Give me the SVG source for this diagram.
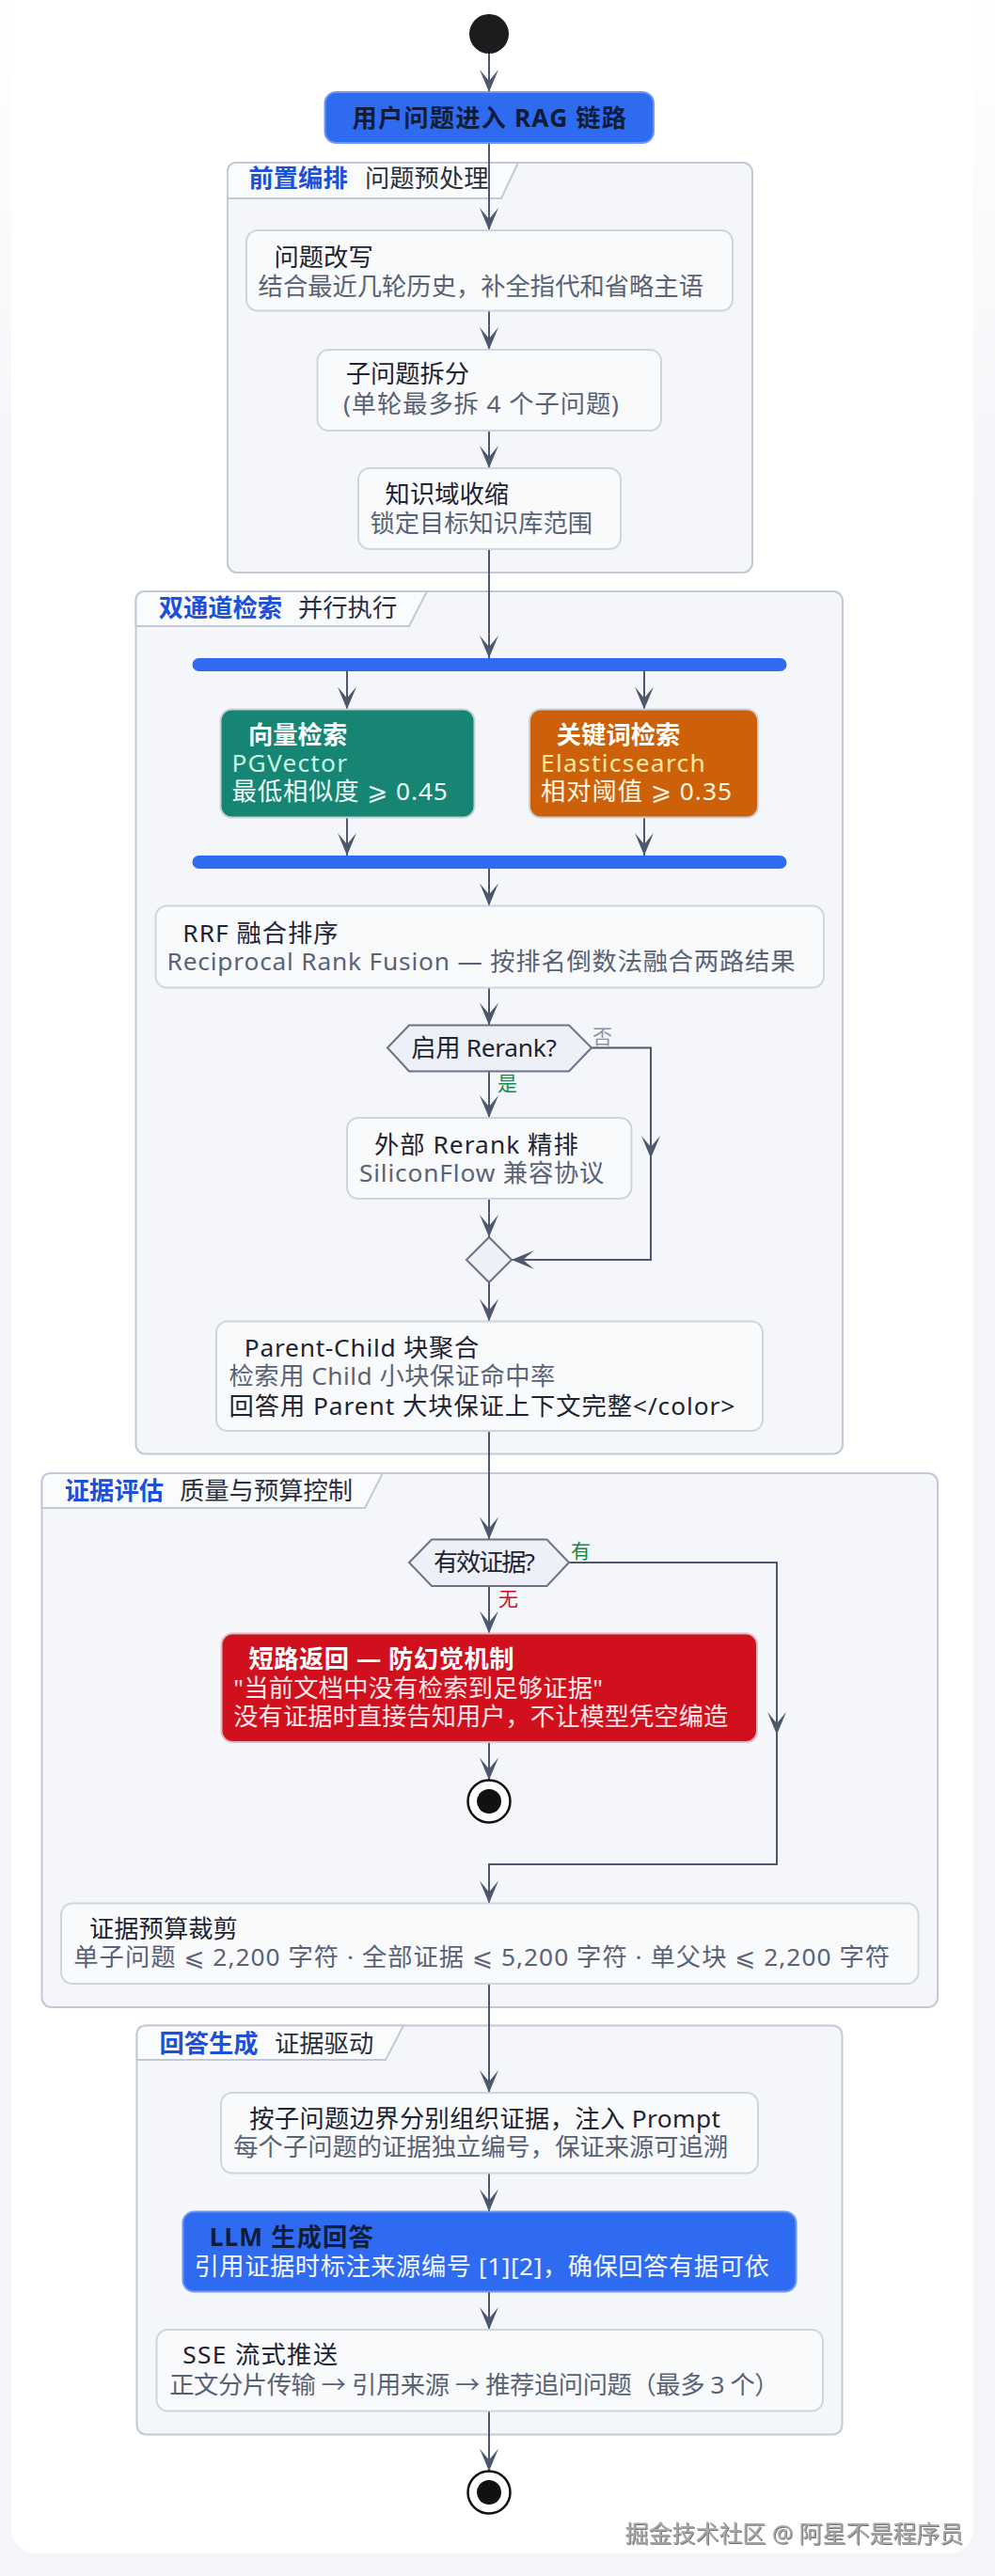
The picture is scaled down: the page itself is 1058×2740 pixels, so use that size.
<svg xmlns="http://www.w3.org/2000/svg" width="1058" height="2740" viewBox="0 0 1058 2740">
<style>
.t{font-family:"Noto Sans","Noto Sans CJK SC","DejaVu Sans",sans-serif;font-size:26.3px}
.h{fill:#1f2433}
.s{fill:#5a6376}
.b{font-weight:bold}
.grp{fill:#f4f6f9;stroke:#c3c9d6;stroke-width:2}
.tab{fill:#fafbfd;stroke:#c3c9d6;stroke-width:2}
.box{fill:#f8fafc;stroke:#cfd5e0;stroke-width:2}
.blue{fill:#2f6bf0;stroke:#6d97f4;stroke-width:2}
.gt{fill:#1d4fd8;font-weight:bold}
.gs{fill:#2a3040}
.edge{fill:none;stroke:#4e586c;stroke-width:2;marker-end:url(#arr)}
.lbl{font-size:21px}
.hex{fill:#edf0f7;stroke:#6b7487;stroke-width:2}
.bar{fill:#2f6bf0}
.navy{fill:#0f1c3a}
</style>
<defs>
<marker id="arr" viewBox="0 0 24 22" refX="24" refY="11" markerWidth="24" markerHeight="22" markerUnits="userSpaceOnUse" orient="auto">
<path d="M24,11 L0,1 L12,11 L0,21 Z" fill="#4e586c"/>
</marker>
<linearGradient id="bg" gradientUnits="userSpaceOnUse" x1="0" y1="0" x2="0" y2="2740">
<stop offset="0" stop-color="#ffffff"/>
<stop offset="0.2" stop-color="#f4f5f9"/>
<stop offset="1" stop-color="#f4f5f9"/>
</linearGradient>
<filter id="emb" x="-5%" y="-30%" width="110%" height="160%">
<feDropShadow dx="1" dy="1" stdDeviation="0.4" flood-color="#555555" flood-opacity="0.8"/>
</filter>
</defs>

<rect x="0" y="0" width="1058" height="2740" fill="url(#bg)"/>
<rect x="12" y="-40" width="1023" height="2756" rx="26" fill="#ffffff"/>

<g id="group-preprocess">
<rect class="grp" x="242" y="173" width="558" height="436" rx="10"/>
<path class="tab" d="M242,211 V183 Q242,173 252,173 H551 L533,211 Z"/>
<text class="t gt" x="264.5" y="199">前置编排</text>
<text class="t gs" x="388" y="199">问题预处理</text>
</g>
<g id="group-retrieval">
<rect class="grp" x="144.5" y="629" width="751.5" height="917.5" rx="10"/>
<path class="tab" d="M144.5,666 V639 Q144.5,629 154.5,629 H454 L435,666 Z"/>
<text class="t gt" x="168.7" y="656">双通道检索</text>
<text class="t gs" x="317" y="656">并行执行</text>
</g>
<g id="group-evidence">
<rect class="grp" x="44.5" y="1567" width="952.5" height="568" rx="10"/>
<path class="tab" d="M44.5,1604 V1577 Q44.5,1567 54.5,1567 H407 L388,1604 Z"/>
<text class="t gt" x="68.8" y="1595">证据评估</text>
<text class="t gs" x="191" y="1595">质量与预算控制</text>
</g>
<g id="group-answer">
<rect class="grp" x="145.5" y="2154.5" width="750" height="435" rx="10"/>
<path class="tab" d="M145.5,2191 V2164.5 Q145.5,2154.5 155.5,2154.5 H429 L410,2191 Z"/>
<text class="t gt" x="169.4" y="2183">回答生成</text>
<text class="t gs" x="292" y="2183">证据驱动</text>
</g>

<g id="connectors">
<path class="edge" d="M520,57 V98"/>
<path class="edge" d="M520,152 V245"/>
<path class="edge" d="M520,330.5 V372"/>
<path class="edge" d="M520,458 V498"/>
<path class="edge" d="M520,584 V700"/>
<path class="edge" d="M369,714 V754.5"/>
<path class="edge" d="M685,714 V754.5"/>
<path class="edge" d="M369,869.5 V910"/>
<path class="edge" d="M685,869.5 V910"/>
<path class="edge" d="M520,924 V963.5"/>
<path class="edge" d="M520,1050.5 V1090.5"/>
<path class="edge" d="M520,1139.5 V1189"/>
<path class="edge" d="M629,1114.5 H692 V1232"/>
<path class="edge" d="M692,1230 V1340 H544"/>
<path class="edge" d="M520,1275 V1316"/>
<path class="edge" d="M520,1364 V1405.5"/>
<path class="edge" d="M520,1522 V1637.5"/>
<path class="edge" d="M520,1687 V1737.5"/>
<path class="edge" d="M520,1853 V1893.5"/>
<path class="edge" d="M605,1662 H826 V1845"/>
<path class="edge" d="M826,1843 V1983 H520 V2024.5"/>
<path class="edge" d="M520,2110 V2226"/>
<path class="edge" d="M520,2311.5 V2352.5"/>
<path class="edge" d="M520,2437.5 V2478"/>
<path class="edge" d="M520,2564.5 V2628.5"/>
<text class="t lbl" x="529" y="1160" fill="#178a4c">是</text>
<text class="t lbl" x="630" y="1110" fill="#8a93a4">否</text>
<text class="t lbl" x="607" y="1657" fill="#178a4c">有</text>
<text class="t lbl" x="530" y="1708" fill="#cc1020">无</text>
</g>

<g id="start">
<circle cx="520" cy="36" r="21" fill="#1c1c1e"/>
</g>
<g id="n-input">
<rect class="blue" x="345.5" y="98" width="349.5" height="54" rx="12"/>
<text class="t b navy" x="374.5" y="134.5" textLength="291.5" lengthAdjust="spacing">用户问题进入 RAG 链路</text>
</g>
<g id="n-rewrite">
<rect class="box" x="262" y="245" width="517" height="85.5" rx="12"/>
<text class="t h" x="291.5" y="283">问题改写</text>
<text class="t s" x="274.6" y="314">结合最近几轮历史，补全指代和省略主语</text>
</g>
<g id="n-split">
<rect class="box" x="337.5" y="372" width="365.5" height="86" rx="12"/>
<text class="t h" x="367.7" y="407">子问题拆分</text>
<text class="t s" x="365" y="438.5" textLength="293" lengthAdjust="spacing">(单轮最多拆 4 个子问题)</text>
</g>
<g id="n-scope">
<rect class="box" x="381" y="498" width="279" height="86" rx="12"/>
<text class="t h" x="409.6" y="534.5">知识域收缩</text>
<text class="t s" x="393.4" y="566">锁定目标知识库范围</text>
</g>
<g id="fork">
<rect class="bar" x="204.5" y="700" width="632" height="14" rx="7"/>
</g>
<g id="n-vector">
<rect x="234.5" y="754.5" width="270" height="115" rx="12" fill="#178574" stroke="#c9d0dc" stroke-width="2"/>
<text class="t b" x="264" y="791" fill="#ffffff">向量检索</text>
<text class="t" x="246.5" y="821" fill="#c8f7e2" textLength="122.5" lengthAdjust="spacing">PGVector</text>
<text class="t" x="246.5" y="851" fill="#eefcf6" textLength="229.4" lengthAdjust="spacing">最低相似度 ⩾ 0.45</text>
</g>
<g id="n-keyword">
<rect x="563" y="754.5" width="243" height="115" rx="12" fill="#cc6109" stroke="#c9d0dc" stroke-width="2"/>
<text class="t b" x="591.8" y="791" fill="#ffffff">关键词检索</text>
<text class="t" x="575" y="821" fill="#fde9a6" textLength="174.7" lengthAdjust="spacing">Elasticsearch</text>
<text class="t" x="575" y="851" fill="#fff6e4" textLength="203" lengthAdjust="spacing">相对阈值 ⩾ 0.35</text>
</g>
<g id="join">
<rect class="bar" x="204.5" y="910" width="632" height="14" rx="7"/>
</g>
<g id="n-rrf">
<rect class="box" x="165.5" y="963.5" width="710.5" height="87" rx="12"/>
<text class="t h" x="194.3" y="1002" textLength="165.3" lengthAdjust="spacing">RRF 融合排序</text>
<text class="t s" x="177.5" y="1032" textLength="668" lengthAdjust="spacing">Reciprocal Rank Fusion — 按排名倒数法融合两路结果</text>
</g>
<g id="d-rerank">
<polygon class="hex" points="412,1114.5 435,1090.5 605,1090.5 629,1114.5 605,1139.5 435,1139.5"/>
<text class="t h" x="437.3" y="1124.3" textLength="154.5" lengthAdjust="spacing">启用 Rerank?</text>
</g>
<g id="n-rerank">
<rect class="box" x="369" y="1189" width="302.5" height="86" rx="12"/>
<text class="t h" x="398" y="1226.7" textLength="216.7" lengthAdjust="spacing">外部 Rerank 精排</text>
<text class="t s" x="382" y="1257" textLength="260.4" lengthAdjust="spacing">SiliconFlow 兼容协议</text>
</g>
<g id="merge">
<polygon class="hex" points="520,1316 544,1340 520,1364 496,1340"/>
</g>
<g id="n-parent-child">
<rect class="box" x="230" y="1405.5" width="581" height="116.5" rx="12"/>
<text class="t h" x="259.8" y="1442.6" textLength="249.6" lengthAdjust="spacing">Parent-Child 块聚合</text>
<text class="t s" x="243.6" y="1473" textLength="346.8" lengthAdjust="spacing">检索用 Child 小块保证命中率</text>
<text class="t h" x="243.6" y="1504.7" textLength="537.8" lengthAdjust="spacing">回答用 Parent 大块保证上下文完整&lt;/color&gt;</text>
</g>
<g id="d-evidence">
<polygon class="hex" points="435,1662 459,1637.5 581.5,1637.5 605,1662 581.5,1687 459,1687"/>
<text class="t h" x="461" y="1671" textLength="107.8" lengthAdjust="spacing">有效证据?</text>
</g>
<g id="n-short">
<rect x="235.5" y="1737.5" width="569.5" height="115.5" rx="12" fill="#d0101d" stroke="#e4b8bd" stroke-width="2"/>
<text class="t b" x="264.5" y="1774" fill="#ffffff" textLength="282" lengthAdjust="spacing">短路返回 — 防幻觉机制</text>
<text class="t" x="248.3" y="1805" fill="#ffe4e8" textLength="392.7" lengthAdjust="spacing">"当前文档中没有检索到足够证据"</text>
<text class="t" x="248.3" y="1835" fill="#ffe4e8">没有证据时直接告知用户，不让模型凭空编造</text>
</g>
<g id="end-short">
<circle cx="520" cy="1916" r="22.5" fill="#ffffff" stroke="#111111" stroke-width="2.5"/>
<circle cx="520" cy="1916" r="13" fill="#111111"/>
</g>
<g id="n-budget">
<rect class="box" x="65" y="2024.5" width="911.5" height="85.5" rx="12"/>
<text class="t h" x="95" y="2061">证据预算裁剪</text>
<text class="t s" x="78.3" y="2091" textLength="867.7" lengthAdjust="spacing">单子问题 ⩽ 2,200 字符 · 全部证据 ⩽ 5,200 字符 · 单父块 ⩽ 2,200 字符</text>
</g>
<g id="n-prompt">
<rect class="box" x="235" y="2226" width="571" height="85.5" rx="12"/>
<text class="t h" x="265.2" y="2262.5" textLength="500.7" lengthAdjust="spacing">按子问题边界分别组织证据，注入 Prompt</text>
<text class="t s" x="248.3" y="2292.5">每个子问题的证据独立编号，保证来源可追溯</text>
</g>
<g id="n-llm">
<rect class="blue" x="194.5" y="2352.5" width="652" height="85" rx="12"/>
<text class="t b navy" x="222.7" y="2388.7" textLength="174.1" lengthAdjust="spacing">LLM 生成回答</text>
<text class="t" x="206.5" y="2420" fill="#f2f6ff" textLength="611.3" lengthAdjust="spacing">引用证据时标注来源编号 [1][2]，确保回答有据可依</text>
</g>
<g id="n-sse">
<rect class="box" x="166.5" y="2478" width="708.5" height="86.5" rx="12"/>
<text class="t h" x="194.3" y="2514" textLength="164.7" lengthAdjust="spacing">SSE 流式推送</text>
<text class="t s" x="180.2" y="2545.7" textLength="648.4" lengthAdjust="spacing">正文分片传输 → 引用来源 → 推荐追问问题（最多 3 个）</text>
</g>
<g id="end">
<circle cx="520" cy="2651" r="22.5" fill="#ffffff" stroke="#111111" stroke-width="2.5"/>
<circle cx="520" cy="2651" r="13" fill="#111111"/>
</g>
<text class="t" x="664.6" y="2704" textLength="359.7" lengthAdjust="spacing" fill="#a6a6a6" filter="url(#emb)" style="font-size:25px">掘金技术社区 @ 阿星不是程序员</text>
</svg>
